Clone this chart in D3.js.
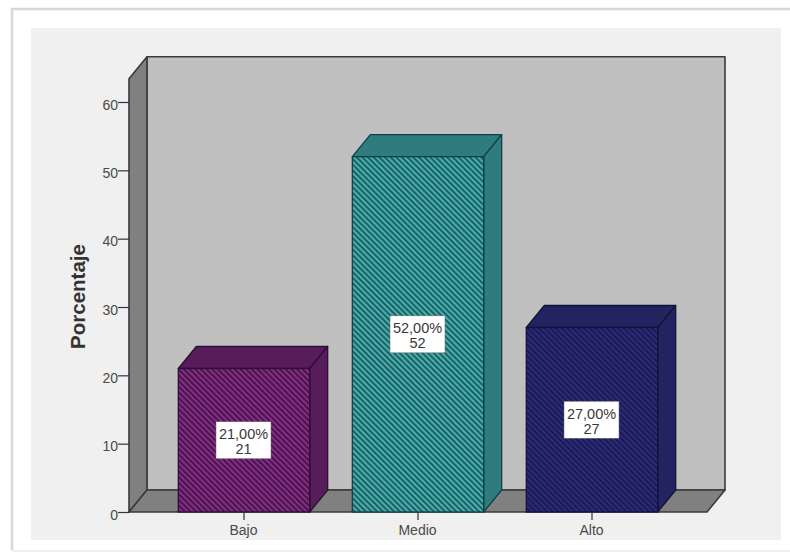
<!DOCTYPE html>
<html>
<head>
<meta charset="utf-8">
<script src="https://cdn.jsdelivr.net/npm/d3@7/dist/d3.min.js"></script>
<style>
html,body{margin:0;padding:0;background:#fff}
svg{display:block}
text{font-family:"Liberation Sans",Arial,sans-serif}
</style>
</head>
<body>
<svg id="chart" width="790" height="555"></svg>
<script>
const categories = ["Bajo", "Medio", "Alto"];
const percentages = [21, 52, 27];
const counts = [21, 52, 27];
const percentLabels = ["21,00%", "52,00%", "27,00%"];
const yTicks = [0, 10, 20, 30, 40, 50, 60];

// Fill colours per bar: stripe light, stripe dark, top and side faces, outline
const palette = [
  {light: "#8b2c82", dark: "#43174f", face: "#561c5c", line: "#2c1033"},
  {light: "#46b0aa", dark: "#1f5f68", face: "#2f7c7e", line: "#123f45"},
  {light: "#2b2b7c", dark: "#1b1b52", face: "#232360", line: "#12123a"}
];

const svg = d3.select("#chart");
const depthX = 18, depthY = -22;

const y = d3.scaleLinear().domain([0, 60]).range([512, 102]);
const x = d3.scaleBand().domain(categories).range([157, 679]).paddingInner(0.245).paddingOuter(0.1225);

const plotLeft = 129, plotRight = 707, plotTop = y(63.4), plotBottom = y(0);

// Framed sheet behind the chart
svg.append("path").attr("d", "M12 550V9H790").attr("fill", "none").attr("stroke", "#d8d8d8").attr("stroke-width", 2.5);
svg.append("path").attr("d", "M12 551H790").attr("fill", "none").attr("stroke", "#e8e8e8").attr("stroke-width", 1.5);
svg.append("rect").attr("x", 31).attr("y", 28).attr("width", 750).attr("height", 512).attr("fill", "#f0f0f0");

// Hatch patterns for the front faces
const hatchSize = 4;
const defs = svg.append("defs");
palette.forEach((c, i) => {
  const p = defs.append("pattern").attr("id", "hatch" + i)
    .attr("patternUnits", "userSpaceOnUse").attr("width", hatchSize).attr("height", hatchSize)
    .attr("patternTransform", "rotate(-45)");
  p.append("rect").attr("width", hatchSize).attr("height", hatchSize).attr("fill", c.light);
  p.append("rect").attr("width", hatchSize / 2).attr("height", hatchSize).attr("fill", c.dark);
});

// Back wall, left wall and floor of the 3D box
const wallStroke = "#3a3a3a";
const poly = pts => "M" + pts.map(p => p.join(",")).join("L") + "Z";
const walls = [
  {fill: "#c0c0c0", pts: [[plotLeft + depthX, plotTop + depthY], [plotRight + depthX, plotTop + depthY], [plotRight + depthX, plotBottom + depthY], [plotLeft + depthX, plotBottom + depthY]]},
  {fill: "#808080", pts: [[plotLeft, plotTop], [plotLeft + depthX, plotTop + depthY], [plotLeft + depthX, plotBottom + depthY], [plotLeft, plotBottom]]},
  {fill: "#808080", pts: [[plotLeft, plotBottom], [plotLeft + depthX, plotBottom + depthY], [plotRight + depthX, plotBottom + depthY], [plotRight, plotBottom]]}
];
svg.append("g").selectAll("path").data(walls).join("path")
  .attr("d", d => poly(d.pts)).attr("fill", d => d.fill)
  .attr("stroke", wallStroke).attr("stroke-width", 1.6).attr("stroke-linejoin", "round");

// Bars: top and side faces first, hatched front over them
const bars = svg.append("g").selectAll("g").data(categories).join("g");
bars.each(function (cat, i) {
  const g = d3.select(this), c = palette[i];
  const x0 = x(cat), x1 = x0 + x.bandwidth(), yT = y(percentages[i]), yB = y(0);
  g.append("path")
    .attr("d", poly([[x0, yT], [x0 + depthX, yT + depthY], [x1 + depthX, yT + depthY], [x1, yT]]))
    .attr("fill", c.face).attr("stroke", c.line).attr("stroke-width", 1.3).attr("stroke-linejoin", "round");
  g.append("path")
    .attr("d", poly([[x1, yT], [x1 + depthX, yT + depthY], [x1 + depthX, yB + depthY], [x1, yB]]))
    .attr("fill", c.face).attr("stroke", c.line).attr("stroke-width", 1.3).attr("stroke-linejoin", "round");
  g.append("rect").attr("x", x0).attr("y", yT).attr("width", x1 - x0).attr("height", yB - yT)
    .attr("fill", `url(#hatch${i})`).attr("stroke", c.line).attr("stroke-width", 1.3);

  // Value box in the middle of the bar
  const cx = (x0 + x1) / 2, cy = y(percentages[i] / 2);
  g.append("rect").attr("x", cx - 28).attr("y", cy - 18.5).attr("width", 55).attr("height", 37)
    .attr("fill", "#fff").attr("stroke", "#666").attr("stroke-width", 0.5);
  g.append("text").attr("x", cx - 0.5).attr("y", cy - 1).attr("text-anchor", "middle")
    .attr("font-size", 14.5).attr("fill", "#383838").text(percentLabels[i]);
  g.append("text").attr("x", cx - 0.5).attr("y", cy + 14).attr("text-anchor", "middle")
    .attr("font-size", 14.5).attr("fill", "#383838").text(counts[i]);
});

// Axes
const yAxis = d3.axisLeft(y).tickValues(yTicks).tickSize(11).tickPadding(0);
const yG = svg.append("g").attr("transform", `translate(${plotLeft},0)`).call(yAxis);
yG.select(".domain").remove();
yG.selectAll("line").attr("stroke", "#333").attr("stroke-width", 1.2);
yG.selectAll("text").attr("font-size", 14).attr("fill", "#4a4a4a").attr("dy", "0.5em")
  .style("font-family", '"Liberation Sans",Arial,sans-serif');

const xAxis = d3.axisBottom(x).tickSize(8).tickPadding(5);
const xG = svg.append("g").attr("transform", `translate(0,${plotBottom})`).call(xAxis);
xG.select(".domain").remove();
xG.selectAll("line").attr("stroke", "#333").attr("stroke-width", 1.2);
xG.selectAll("text").attr("font-size", 14).attr("fill", "#4a4a4a").attr("x", -0.5)
  .style("font-family", '"Liberation Sans",Arial,sans-serif');

svg.append("text").attr("transform", "translate(85,296.5) rotate(-90)")
  .attr("text-anchor", "middle").attr("font-size", 20.5).attr("font-weight", "bold").attr("fill", "#333")
  .text("Porcentaje");
</script>
</body>
</html>
